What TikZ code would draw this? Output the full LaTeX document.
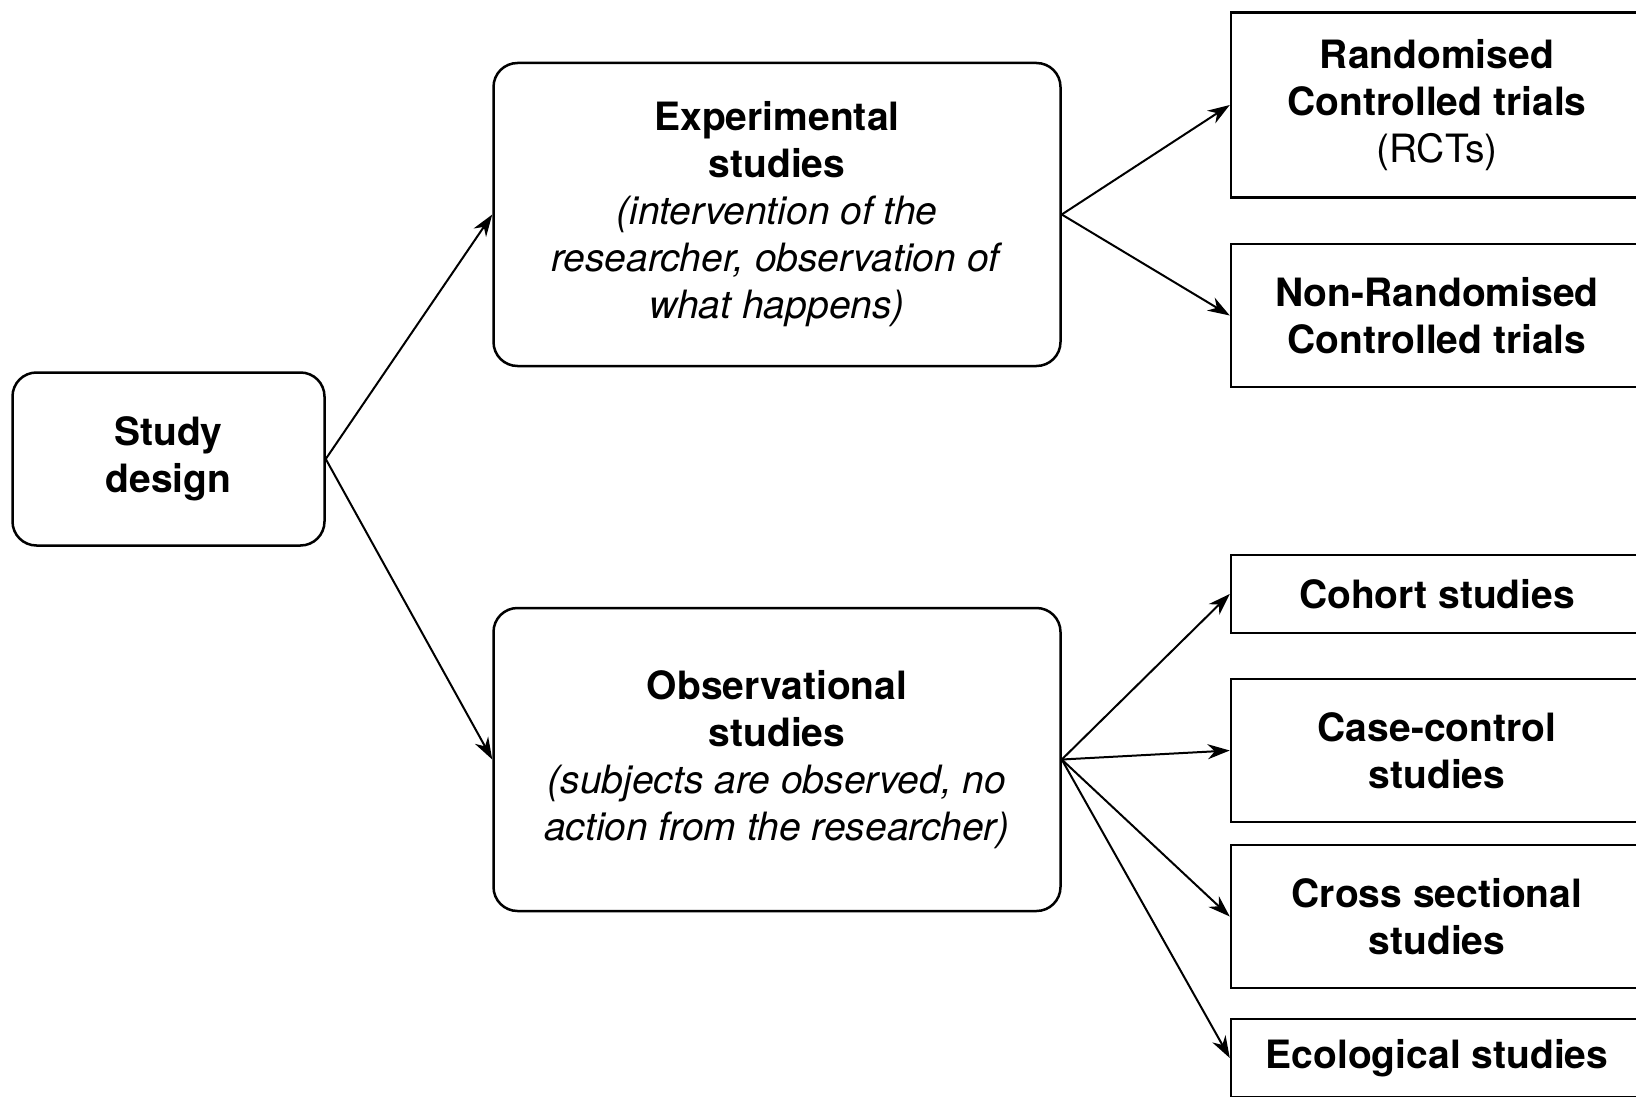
\documentclass[tikz,border=0pt]{standalone}
\usepackage{fontspec}
\setmainfont{TeX Gyre Heros}
\usetikzlibrary{arrows.meta}
\tikzset{
  base/.style={draw=black, line width=2.5pt, inner sep=0pt, align=center,
    font=\fontsize{39}{47}\selectfont, text=black},
  roundbox/.style={base, rounded corners=24pt},
  sqbox/.style={base},
  conn/.style={line width=2pt, -{Stealth[length=22pt,width=15pt,inset=7pt]}}
}
\begin{document}
\begin{tikzpicture}[x=1pt,y=-1pt]
\useasboundingbox (0,0) rectangle (1636,1097);
\node[roundbox, minimum width=312pt, minimum height=173pt] (sd) at (168.5,459) {\textbf{Study}\\\textbf{design}};
\node[roundbox, minimum width=567pt, minimum height=303pt] (exp) at (777,214.5)
  {\textbf{Experimental}\\\textbf{studies}\\\textit{(intervention of the}\\\textit{researcher, observation of}\\\textit{what happens)}};
\node[roundbox, minimum width=567pt, minimum height=303pt] (obs) at (777,759.5)
  {\textbf{Observational}\\\textbf{studies}\\\textit{(subjects are observed, no}\\\textit{action from the researcher)}};
\node[sqbox, minimum width=412pt, minimum height=185pt] (rct) at (1437,105)
  {\textbf{Randomised}\\\textbf{Controlled trials}\\(RCTs)};
\node[sqbox, minimum width=412pt, minimum height=143pt] (nrct) at (1437,315.5)
  {\textbf{Non-Randomised}\\\textbf{Controlled trials}};
\node[sqbox, minimum width=412pt, minimum height=78pt] (coh) at (1437,594)
  {\textbf{Cohort studies}};
\node[sqbox, minimum width=412pt, minimum height=143pt] (cc) at (1437,750.5)
  {\textbf{Case-control}\\\textbf{studies}};
\node[sqbox, minimum width=412pt, minimum height=143pt] (cs) at (1437,916.5)
  {\textbf{Cross sectional}\\\textbf{studies}};
\node[sqbox, minimum width=412pt, minimum height=78pt] (eco) at (1437,1058)
  {\textbf{Ecological studies}};
\draw[conn] (sd.east) -- (exp.west);
\draw[conn] (sd.east) -- (obs.west);
\draw[conn] (exp.east) -- (rct.west);
\draw[conn] (exp.east) -- (nrct.west);
\draw[conn] (obs.east) -- (coh.west);
\draw[conn] (obs.east) -- (cc.west);
\draw[conn] (obs.east) -- (cs.west);
\draw[conn] (obs.east) -- (eco.west);
\end{tikzpicture}
\end{document}
